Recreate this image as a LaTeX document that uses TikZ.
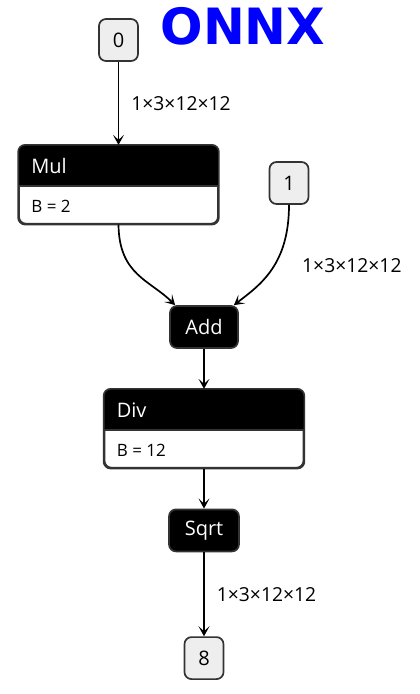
\documentclass[tikz,border=0pt]{standalone}
\usepackage{fontspec}
\setmainfont{Open Sans}
\newfontfamily\titlefont{DejaVu Sans}
\usetikzlibrary{positioning}
\usetikzlibrary{arrows.meta}
\usetikzlibrary{calc}
\definecolor{boxgray}{HTML}{EEEEEE}
\definecolor{bordergray}{HTML}{333333}

\begin{document}
\begin{tikzpicture}[x=1pt, y=-1pt,
			tensor/.style={draw=bordergray, fill=boxgray, line width=1.7pt, rounded corners=7pt, minimum width=39pt, minimum height=42pt, inner sep=0pt, font=\fontsize{20}{24}\selectfont},
			op/.style={draw=bordergray, fill=black, text=white, line width=1.7pt, rounded corners=7pt, minimum height=42pt, inner sep=0pt, font=\fontsize{20}{24}\selectfont},
			attrop/.style={draw=bordergray, fill=white, line width=1.7pt, rounded corners=7pt, minimum width=199pt, minimum height=78pt, inner sep=0pt},
			oplabel/.style={text=white, inner sep=0pt, anchor=west, font=\fontsize{20}{24}\selectfont},
			attr/.style={inner sep=0pt, anchor=west, font=\fontsize{17}{20}\selectfont},
			dims/.style={inner sep=0pt, anchor=west, font=\fontsize{19.3}{23}\selectfont},
			flow/.style={draw, line width=1.7pt, -{Stealth[length=10pt, width=11pt, inset=5pt]}}]
			\useasboundingbox (0,0) rectangle (420,694);
			
			\node[blue, inner sep=0pt, font=\titlefont\bfseries\fontsize{50}{56}\selectfont](title) at (243,26) {ONNX};
			
			\node[tensor](node0) at (118.5,40) {0};
			\node[attrop, below=83pt of node0](mul) {};
			\fill[black, rounded corners=7pt] (mul.north west) rectangle ($(mul.north east)+(0,41)$);
			\fill[black] ($(mul.north west)+(0,20)$) rectangle ($(mul.north east)+(0,41)$);
			\draw[bordergray, line width=1.7pt, rounded corners=7pt] (mul.north west) rectangle (mul.south east);
			\draw[bordergray, line width=1.7pt] ($(mul.north west)+(0,41)$) -- ($(mul.north east)+(0,41)$);
			\node[oplabel](mulname) at ($(mul.north west)+(13,21)$) {Mul};
			\node[attr](mulattr) at ($(mul.south west)+(13,-18)$) {B = 2};
			
			\node[tensor](node1) at (289,183) {1};
			\node[op, minimum width=68pt](add) at (204,327) {Add};
			
			\node[attrop, below=40pt of add](div) {};
			\fill[black, rounded corners=7pt] (div.north west) rectangle ($(div.north east)+(0,41)$);
			\fill[black] ($(div.north west)+(0,20)$) rectangle ($(div.north east)+(0,41)$);
			\draw[bordergray, line width=1.7pt, rounded corners=7pt] (div.north west) rectangle (div.south east);
			\draw[bordergray, line width=1.7pt] ($(div.north west)+(0,41)$) -- ($(div.north east)+(0,41)$);
			\node[oplabel](divname) at ($(div.north west)+(13,21)$) {Div};
			\node[attr](divattr) at ($(div.south west)+(13,-18)$) {B = 12};
			
			\node[op, minimum width=70pt, below=40pt of div](sqrt) {Sqrt};
			\node[tensor, below=84pt of sqrt](node8) {8};
			
			\draw[flow] (node0) -- node[dims, right=12pt, pos=0.5]{1×3×12×12} (mul);
			\draw[flow] (mul.south) .. controls (119,275) and (150,280) .. ([xshift=6pt]add.north west);
			\draw[flow] (node1.south) .. controls (289,265) and (260,285) .. ([xshift=-5pt]add.north east);
			\node[dims](lbl1) at (302,266) {1×3×12×12};
			\draw[flow] (add) -- (div);
			\draw[flow] (div) -- (sqrt);
			\draw[flow] (sqrt) -- node[dims, right=12pt, pos=0.5]{1×3×12×12} (node8);
		\end{tikzpicture}
\end{document}
